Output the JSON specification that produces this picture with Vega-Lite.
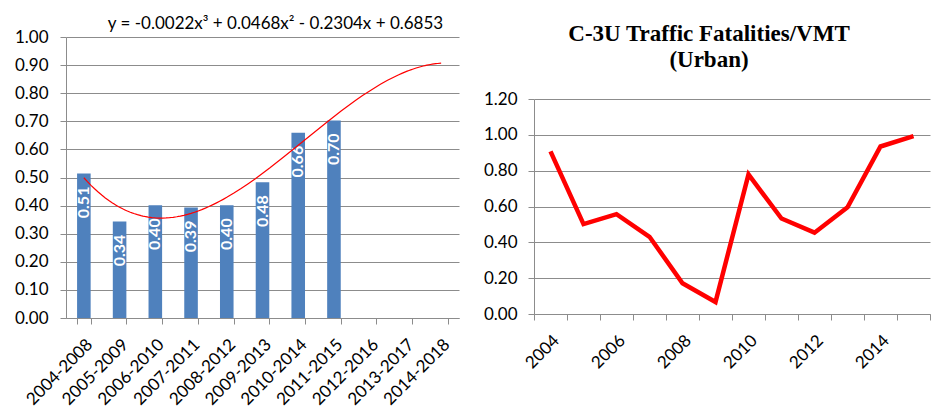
{
  "$schema": "https://vega.github.io/schema/vega-lite/v6.json",
  "background": "white",
  "padding": {"left": 5, "top": 15, "right": 0, "bottom": 0},
  "spacing": 15,
  "datasets": {
    "periods": [
      {"period": "2004-2008", "idx": 1, "rate": 0.514},
      {"period": "2005-2009", "idx": 2, "rate": 0.343},
      {"period": "2006-2010", "idx": 3, "rate": 0.401},
      {"period": "2007-2011", "idx": 4, "rate": 0.393},
      {"period": "2008-2012", "idx": 5, "rate": 0.401},
      {"period": "2009-2013", "idx": 6, "rate": 0.483},
      {"period": "2010-2014", "idx": 7, "rate": 0.659},
      {"period": "2011-2015", "idx": 8, "rate": 0.703}
    ],
    "years": [
      {"year": 2004, "rate": 0.908},
      {"year": 2005, "rate": 0.502},
      {"year": 2006, "rate": 0.557},
      {"year": 2007, "rate": 0.431},
      {"year": 2008, "rate": 0.172},
      {"year": 2009, "rate": 0.067},
      {"year": 2010, "rate": 0.779},
      {"year": 2011, "rate": 0.533},
      {"year": 2012, "rate": 0.454},
      {"year": 2013, "rate": 0.596},
      {"year": 2014, "rate": 0.935},
      {"year": 2015, "rate": 0.993}
    ]
  },
  "config": {
    "font": "Lato",
    "view": {"stroke": null},
    "axis": {
      "labelFont": "Lato",
      "labelFontSize": 17,
      "labelColor": "#000000",
      "domainColor": "#8c8c8c",
      "tickColor": "#8c8c8c",
      "gridColor": "#8c8c8c",
      "gridOpacity": 1,
      "domainWidth": 1,
      "tickSize": 6
    }
  },
  "hconcat": [
    {
      "width": 393,
      "height": 281,
      "title": {
        "text": "y = -0.0022x³ + 0.0468x² - 0.2304x + 0.6853",
        "font": "Lato",
        "fontSize": 17,
        "fontWeight": "normal",
        "color": "#000000",
        "anchor": "middle",
        "baseline": "bottom",
        "dx": 13,
        "offset": -22
      },
      "data": {"name": "periods"},
      "encoding": {
        "y": {
          "field": "rate",
          "type": "quantitative",
          "scale": {"domain": [0, 1]},
          "axis": {
            "title": null,
            "values": [0, 0.1, 0.2, 0.3, 0.4, 0.5, 0.6, 0.7, 0.8, 0.9, 1.0],
            "format": ".2f",
            "grid": true,
            "labelOverlap": false,
            "minExtent": 61,
            "labelPadding": 12
          }
        }
      },
      "layer": [
        {
          "layer": [
            {
              "mark": {"type": "bar", "color": "#4F81BD"},
              "encoding": {
                "x": {
                  "field": "period",
                  "type": "nominal",
                  "sort": null,
                  "scale": {
                    "domain": ["2004-2008", "2005-2009", "2006-2010", "2007-2011", "2008-2012", "2009-2013", "2010-2014", "2011-2015", "2012-2016", "2013-2017", "2014-2018"],
                    "paddingInner": 0.62,
                    "paddingOuter": 0.31
                  },
                  "axis": {"title": null, "labelAngle": -45, "tickBand": "extent", "grid": false, "labelPadding": 12}
                }
              }
            },
            {
              "mark": {"type": "text", "angle": 270, "align": "right", "baseline": "middle", "dx": -13, "color": "white", "font": "Lato", "fontWeight": "bold", "fontSize": 16},
              "encoding": {
                "x": {"field": "period", "type": "nominal", "sort": null},
                "text": {"field": "rate", "type": "quantitative", "format": ".2f"}
              }
            }
          ]
        },
        {
          "transform": [
            {"regression": "rate", "on": "idx", "method": "poly", "order": 3, "extent": [1, 11]}
          ],
          "mark": {"type": "line", "color": "#FF0000", "strokeWidth": 1.2},
          "encoding": {
            "x": {"field": "idx", "type": "quantitative", "scale": {"domain": [0.5, 11.5], "nice": false, "zero": false}, "axis": null}
          }
        }
      ],
      "resolve": {"scale": {"x": "independent"}}
    },
    {
      "width": 396,
      "height": 277,
      "title": {
        "text": ["C-3U Traffic  Fatalities/VMT", "(Urban)"],
        "font": "Liberation Serif",
        "fontSize": 23,
        "fontWeight": "bold",
        "lineHeight": 26,
        "color": "#000000",
        "anchor": "middle",
        "baseline": "bottom",
        "dx": -23,
        "offset": -58
      },
      "data": {"name": "years"},
      "mark": {"type": "line", "color": "#FF0000", "strokeWidth": 4.5},
      "encoding": {
        "x": {
          "field": "year",
          "type": "ordinal",
          "bandPosition": 0.5,
          "scale": {"type": "band", "paddingInner": 0, "paddingOuter": 0},
          "axis": {"title": null, "labelAngle": -45, "tickBand": "extent", "grid": false, "labelPadding": 12, "labelExpr": "datum.value % 2 == 0 ? datum.label : ''"}
        },
        "y": {
          "field": "rate",
          "type": "quantitative",
          "scale": {"domain": [0, 1.2], "range": [277, 62]},
          "axis": {
            "title": null,
            "values": [0, 0.2, 0.4, 0.6, 0.8, 1.0, 1.2],
            "format": ".2f",
            "grid": true,
            "minExtent": 60,
            "labelPadding": 11
          }
        }
      }
    }
  ]
}
